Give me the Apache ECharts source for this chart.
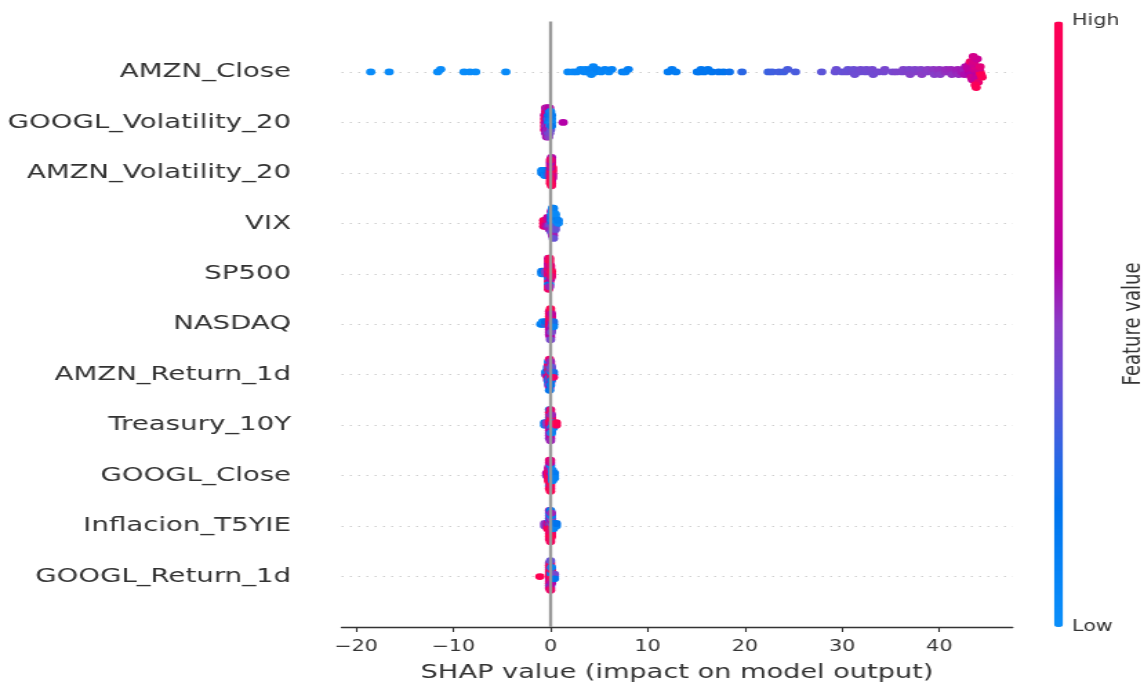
<!DOCTYPE html>
<html>
<head>
<meta charset="utf-8">
<title>SHAP summary</title>
<script src="https://cdn.jsdelivr.net/npm/echarts@6/dist/echarts.min.js"></script>
<style>
  html, body { margin: 0; padding: 0; background: #fff; overflow: hidden; }
  /* the reference picture is stretched sideways, so draw narrow and scale it */
  #chart { width: 832px; height: 685px; transform: scaleX(1.38); transform-origin: 0 0; }
</style>
</head>
<body>
<div id="chart"></div>
<script>
// features, top row first
const featureNames = ['AMZN_Close', 'GOOGL_Volatility_20', 'AMZN_Volatility_20', 'VIX', 'SP500', 'NASDAQ',
  'AMZN_Return_1d', 'Treasury_10Y', 'GOOGL_Close', 'Inflacion_T5YIE', 'GOOGL_Return_1d']

// shap values and feature values (0 = low, 10 = high)
const amznCloseShap = [-18.5, -16.6, -11.6, -11.3, -8.9, -8.3, -7.7, -4.6,
  1.8, 2.3, 2.7, 3.1, 3.5, 3.6, 3.9, 4.1, 4.2, 4.4, 4.6, 4.8, 5.2, 5.6, 6.0, 6.3, 7.4, 7.7, 8.0,
  12.1, 12.5, 12.9, 15.1, 15.3, 15.5, 15.8, 16.2, 16.6, 17.3, 17.8, 18.4, 19.7,
  22.4, 22.8, 23.5, 24.0, 24.4, 25.2, 27.9,
  29.3, 29.4, 30.0, 30.5, 30.6, 31.1, 31.2, 31.3, 31.8, 31.9, 32.4, 32.5, 33.0, 33.1, 33.2, 33.7, 34.3, 34.4,
  35.2, 35.6, 36.2, 36.3, 36.8, 36.9, 37.0, 37.4, 37.5, 38.0, 38.1, 38.2, 38.7, 38.8, 39.3, 39.4, 39.5,
  39.9, 40.0, 40.1, 40.6, 40.7, 41.1, 41.2, 41.3, 41.8, 41.9, 42.0, 42.3, 42.5, 42.6, 42.7,
  43.1, 43.0, 43.2, 42.9, 43.3, 43.1, 43.4, 43.2,
  43.8, 43.6, 43.9, 43.7, 44.0, 43.5, 43.8, 43.6, 44.0, 43.9, 43.7, 43.5, 43.8,
  44.2, 44.1, 44.3, 44.2, 44.4]
const amznCloseValue = [0.2, 0.3, 0.2, 0.3, 0.2, 0.3, 0.2, 0.4,
  0.6, 0.5, 0.7, 0.6, 0.8, 0.6, 0.7, 0.9, 0.6, 0.8, 0.7, 1.0, 0.8, 0.9, 0.7, 1.0, 1.1, 0.9, 1.2,
  1.4, 1.5, 1.4, 1.7, 1.8, 1.7, 1.9, 1.8, 2.0, 2.1, 2.0, 2.2, 2.8,
  3.1, 3.2, 3.3, 3.2, 3.4, 3.4, 3.8,
  4.0, 4.1, 4.0, 4.1, 4.0, 4.2, 4.1, 4.2, 4.2, 4.3, 4.2, 4.3, 4.3, 4.4, 4.3, 4.4, 4.4, 4.5,
  4.5, 4.6, 4.6, 4.7, 4.7, 4.6, 4.8, 4.8, 4.7, 4.9, 4.8, 5.0, 4.9, 5.0, 5.0, 5.1, 4.9,
  5.1, 5.2, 5.0, 5.2, 5.3, 5.3, 5.4, 5.2, 5.4, 5.5, 5.3, 5.6, 5.5, 5.8, 5.7,
  6.2, 6.6, 5.9, 6.4, 7.0, 6.5, 6.8, 9.0,
  6.5, 7.0, 6.3, 7.6, 6.8, 7.2, 6.6, 7.5, 8.6, 6.9, 9.5, 7.3, 9.8,
  9.6, 7.5, 10, 8.2, 9.8]

const googlVolShap = [-0.6, -0.6, -0.6, -0.6, -0.6,
  -0.5, -0.5, -0.5, -0.5, -0.5, -0.5, -0.5, -0.5,
  -0.4, -0.4, -0.4, -0.4, -0.4, -0.4, -0.4, -0.4, -0.4,
  -0.3, -0.3, -0.3, -0.3, -0.3, -0.3, -0.3, -0.3, -0.3,
  -0.2, -0.2, -0.2, -0.2, -0.2, -0.2, -0.2, -0.2, -0.2,
  -0.1, -0.1, -0.1, -0.1, -0.1, -0.1, -0.1, -0.1,
  0, 0, 0, 0, 0, 0, 0.1, 0.1, 0.1, 0.1, 1.3]
const googlVolValue = [9.5, 8.5, 9.5, 6.5, 9.0,
  6.5, 9.5, 5.5, 9.0, 6.0, 7.0, 5.5, 6.5,
  5.5, 6.5, 4.5, 7.0, 6.0, 9.5, 5.0, 6.5, 5.5,
  6.0, 2.0, 5.5, 6.5, 4.5, 8.5, 6.0, 5.0, 6.5,
  1.5, 4.5, 6.5, 2.0, 5.5, 6.0, 4.0, 7.0, 5.0,
  1.0, 1.5, 5.0, 2.0, 6.5, 1.5, 4.5, 6.0,
  1.0, 1.5, 0.5, 2.0, 4.0, 1.0, 0.5, 1.0, 2.0, 1.5, 6.0]

const amznVolShap = [0.1, 0.1, 0.1, 0.1, 0.1, 0.1, 0.1, 0.1, 0.1, 0.1, 0.1, 0.1,
  0.2, 0.2, 0.2, 0.2, 0.2,
  -0.9, -0.9, -0.8, -0.8, -0.6, -0.6, -0.6, -0.5, -0.5, -0.5, -0.3, -0.3, -0.3, -0.2, -0.2, -0.2,
  0, 0, 0, 0, 0, 0, 0, 0, 0, 0]
const amznVolValue = [9.5, 9.0, 8.5, 10, 7.5, 9.5, 6.5, 9.0, 8.0, 7.0, 9.5, 6.0,
  8.5, 9.5, 7.0, 10, 6.5,
  1.0, 0.5, 1.5, 1.0, 1.0, 0.5, 2.0, 1.5, 1.0, 0.5, 2.0, 1.0, 1.5, 2.5, 1.5, 3.0,
  10, 9.5, 8.0, 6.5, 9.0, 7.5, 9.5, 6.0, 10, 8.5]

const vixShap = [-0.7, -0.7, -0.7, -0.5, -0.5, -0.5, -0.3, -0.3, -0.3, -0.3,
  -0.1, -0.1, -0.1, -0.1, -0.1,
  0.1, 0.1, 0.1, 0.1, 0.1, 0.1, 0.1, 0.1,
  0.2, 0.2, 0.2, 0.2, 0.2, 0.2, 0.2, 0.2, 0.2, 0.2,
  0.3, 0.3, 0.3, 0.3, 0.3, 0.3, 0.3, 0.3, 0.3, 0.3, 0.3,
  0.5, 0.5, 0.5, 0.5, 0.5, 0.5, 0.8, 0.8]
const vixValue = [10, 9.5, 9.0, 8.5, 9.5, 7.5, 6.5, 8.0, 5.5, 7.0,
  5.0, 6.5, 4.5, 6.0, 5.5,
  3.0, 1.5, 4.5, 2.0, 5.5, 1.0, 4.0, 6.0,
  2.0, 1.0, 4.5, 1.5, 5.0, 0.5, 4.0, 1.0, 5.5, 1.5,
  1.5, 0.5, 4.0, 1.0, 5.0, 1.5, 4.5, 0.5, 5.5, 1.0, 4.0,
  1.0, 0.5, 3.5, 1.5, 4.0, 0.5, 0.5, 1.0]

const sp500Shap = [-0.9, -0.9, -0.7, -0.7, -0.5, -0.5,
  -0.2, -0.2, -0.2, -0.2, -0.2, -0.2, -0.2, -0.2, -0.2, -0.2, -0.2, -0.2, -0.2,
  -0.1, -0.1, -0.1, -0.1, -0.1, -0.1, -0.1, -0.1, -0.1, -0.1, -0.1, -0.1,
  0, 0, 0, 0, 0, 0, 0.1, 0.1, 0.1]
const sp500Value = [1.0, 1.5, 0.5, 2.0, 3.5, 4.5,
  9.5, 6.5, 9.0, 10, 2.0, 7.0, 9.5, 6.0, 1.5, 8.5, 10, 6.5, 9.0,
  8.0, 10, 6.5, 9.5, 1.0, 6.0, 9.0, 7.5, 2.0, 10, 5.5, 9.5,
  6.5, 5.5, 9.0, 7.0, 6.0, 8.5, 9.5, 10, 8.5]

const nasdaqShap = [-1.0, -0.8, -0.8, -0.5, -0.5,
  -0.1, -0.1, -0.1, -0.1, -0.1, -0.1, -0.1, -0.1, -0.1, -0.1,
  0, 0, 0, 0, 0, 0, 0, 0, 0, 0, 0, 0, 0,
  0.1, 0.1, 0.1, 0.1, 0.1, 0.1, 0.1, 0.1, 0.3, 0.3, 0.3]
const nasdaqValue = [1.0, 1.5, 0.5, 3.0, 2.0,
  9.5, 10, 8.5, 9.0, 6.5, 10, 5.5, 9.5, 6.0, 8.0,
  10, 9.0, 9.5, 8.5, 6.5, 10, 7.0, 9.5, 5.5, 9.0, 6.0, 10, 4.5,
  8.5, 7.0, 5.5, 9.5, 6.0, 8.0, 4.5, 6.5, 1.5, 2.5, 1.0]

const amznRetShap = [-0.5, -0.5, -0.3, -0.3, -0.3, -0.3, -0.3, -0.3,
  -0.2, -0.2, -0.2, -0.2, -0.2, -0.2, -0.2, -0.2, -0.2, -0.2,
  -0.1, -0.1, -0.1, -0.1, -0.1, -0.1, -0.1, -0.1, -0.1, -0.1, -0.1, -0.1, -0.1,
  0, 0, 0, 0, 0, 0, 0, 0, 0, 0,
  0.1, 0.1, 0.1, 0.1, 0.1, 0.1, 0.3, 0.3, 0.3]
const amznRetValue = [4.5, 1.5, 6.5, 1.0, 9.5, 2.0, 5.0, 1.5,
  9.0, 1.5, 6.0, 9.5, 2.0, 5.0, 1.0, 8.5, 4.5, 1.0,
  6.5, 9.5, 1.5, 2.0, 5.5, 10, 1.0, 9.0, 4.5, 1.5, 6.0, 8.5, 2.0,
  9.5, 5.0, 1.5, 10, 4.5, 1.0, 6.0, 9.0, 2.0, 5.5,
  8.0, 1.5, 9.5, 5.0, 2.0, 4.0, 1.0, 2.5, 9.0]

const treasuryShap = [-0.6, -0.6, -0.4, -0.4,
  -0.1, -0.1, -0.1, -0.1, -0.1, -0.1, -0.1, -0.1, -0.1, -0.1, -0.1, -0.1,
  0, 0, 0, 0, 0, 0, 0, 0, 0, 0, 0, 0, 0,
  0.1, 0.1, 0.1, 0.1, 0.1, 0.1, 0.1, 0.1, 0.3, 0.3, 0.3, 0.6, 0.6]
const treasuryValue = [1.0, 2.0, 4.0, 5.0,
  9.0, 10, 6.5, 9.5, 8.0, 1.5, 5.5, 10, 6.0, 9.0, 4.5, 2.0,
  6.5, 9.5, 5.5, 10, 6.0, 9.0, 4.5, 1.0, 5.0, 9.5, 6.5, 8.5, 5.5,
  9.5, 8.0, 1.5, 10, 6.0, 9.0, 1.0, 5.5, 1.0, 1.5, 0.5, 9.5, 10]

const googlCloseShap = [-0.4, -0.4, -0.2, -0.2, -0.2, -0.2, -0.2, -0.2,
  -0.1, -0.1, -0.1, -0.1, -0.1, -0.1, -0.1, -0.1, -0.1, -0.1, -0.1, -0.1,
  0, 0, 0, 0, 0, 0, 0, 0, 0, 0, 0, 0, 0,
  0.2, 0.2, 0.2, 0.2, 0.2, 0.4, 0.4, 0.4]
const googlCloseValue = [5.0, 6.0, 9.5, 10, 8.5, 9.0, 10, 6.5,
  10, 9.0, 9.5, 8.0, 10, 6.5, 9.5, 7.0, 1.5, 9.0, 10, 8.5,
  9.5, 6.0, 10, 8.5, 9.0, 5.5, 9.5, 1.0, 10, 6.5, 9.0, 8.0, 10,
  1.0, 0.5, 1.5, 0.5, 1.0, 0.5, 1.5, 1.0]

const inflacionShap = [-0.6, -0.6, -0.3, -0.3, -0.3,
  -0.1, -0.1, -0.1, -0.1, -0.1, -0.1, -0.1, -0.1, -0.1, -0.1, -0.1, -0.1,
  0, 0, 0, 0, 0, 0, 0, 0, 0, 0, 0, 0, 0,
  0.1, 0.1, 0.1, 0.1, 0.1, 0.1, 0.1, 0.1, 0.1, 0.1,
  0.3, 0.3, 0.3, 0.6, 0.6]
const inflacionValue = [4.5, 5.0, 6.5, 7.0, 9.5,
  9.0, 1.5, 10, 6.5, 9.5, 2.0, 9.0, 5.5, 10, 1.0, 9.5, 6.0,
  6.5, 9.5, 10, 1.5, 9.0, 6.0, 9.5, 1.0, 10, 5.5, 8.5, 2.0, 9.5,
  9.5, 5.0, 10, 6.5, 9.0, 4.5, 8.5, 1.5, 10, 5.5,
  1.5, 2.0, 1.0, 1.0, 2.0]

const googlRetShap = [-1.1,
  -0.1, -0.1, -0.1, -0.1, -0.1, -0.1, -0.1, -0.1, -0.1, -0.1, -0.1, -0.1,
  0, 0, 0, 0, 0, 0, 0, 0, 0, 0, 0, 0, 0, 0,
  0.1, 0.1, 0.1, 0.1, 0.1, 0.1, 0.1, 0.1, 0.4, 0.4, 0.4]
const googlRetValue = [10,
  9.5, 10, 8.5, 9.0, 6.5, 10, 9.5, 5.5, 9.0, 10, 8.0, 4.5,
  10, 9.0, 6.0, 9.5, 8.5, 10, 5.5, 9.0, 1.5, 10, 7.0, 9.5, 9.0, 4.0,
  9.0, 1.5, 10, 2.0, 8.5, 9.5, 6.0, 1.0, 1.5, 4.5, 2.0]

const shapRows = [amznCloseShap, googlVolShap, amznVolShap, vixShap, sp500Shap, nasdaqShap,
  amznRetShap, treasuryShap, googlCloseShap, inflacionShap, googlRetShap]
const valueRows = [amznCloseValue, googlVolValue, amznVolValue, vixValue, sp500Value, nasdaqValue,
  amznRetValue, treasuryValue, googlCloseValue, inflacionValue, googlRetValue]

const xTicks = [-20, -10, 0, 10, 20, 30, 40]
const barColors = ['#0a8ffa', '#0582f5', '#0074ee', '#3563e2', '#6650d6', '#8a3cc6',
  '#b400a8', '#cc0092', '#e0007c', '#f00066', '#ff0052']

// same stacking as the shap beeswarm: bin the values, pile points up and down inside a bin
function swarm(shaps) {
  const lo = Math.min(...shaps)
  const hi = Math.max(...shaps)
  const quant = shaps.map(v => Math.round(100 * (v - lo) / (hi - lo + 1e-8)))
  const inds = shaps.map((v, i) => i).sort((a, b) => quant[a] - quant[b] || a - b)
  const ys = new Array(shaps.length).fill(0)
  let layer = 0
  let lastBin = -1
  for (const i of inds) {
    if (quant[i] !== lastBin) layer = 0
    ys[i] = Math.ceil(layer / 2) * ((layer % 2) * 2 - 1)
    layer += 1
    lastBin = quant[i]
  }
  const top = Math.max(...ys.map(y => y + 1))
  return ys.map(y => y * 0.9 * (0.4 / top))
}

const n = featureNames.length
const points = []
shapRows.forEach((shaps, i) => {
  const pos = n - 1 - i
  const offs = swarm(shaps)
  shaps.forEach((v, j) => points.push([v, pos + offs[j], valueRows[i][j]]))
})

const fmtMinus = v => (v < 0 ? '\u2212' + (-v) : String(v))

const chart = echarts.init(document.getElementById('chart'))
chart.setOption({
  animation: false,
  backgroundColor: '#fff',
  textStyle: { fontFamily: 'DejaVu Sans' },
  grid: { left: 247.5, right: 98.2, top: 21.5, bottom: 58, containLabel: false, outerBoundsMode: 'none' },
  xAxis: {
    type: 'value',
    min: -21.5,
    max: 47.55,
    axisLine: { show: true, onZero: false, lineStyle: { color: '#333', width: 1.3 } },
    axisTick: { show: true, length: 5, customValues: xTicks, lineStyle: { color: '#333', width: 1.1 } },
    axisLabel: { customValues: xTicks, formatter: fmtMinus, color: '#333', fontSize: 15, margin: 13 },
    splitLine: { show: false },
    name: 'SHAP value (impact on model output)',
    nameLocation: 'middle',
    nameGap: 36,
    nameTextStyle: { color: '#333', fontSize: 19.7 }
  },
  yAxis: {
    type: 'value',
    min: -1,
    max: 11,
    interval: 1,
    axisLine: { show: false },
    axisTick: { show: false },
    axisLabel: {
      margin: 36.6,
      color: '#333',
      fontSize: 20,
      padding: [4, 0, 0, 0],
      formatter: v => (v >= 0 && v < n ? featureNames[n - 1 - v] : '')
    },
    splitLine: {
      show: true,
      showMinLine: false,
      showMaxLine: false,
      lineStyle: { color: '#cfcfcf', width: 1, type: [1.5, 4.5] }
    }
  },
  visualMap: {
    type: 'continuous',
    seriesIndex: 0,
    dimension: 2,
    min: 0,
    max: 10,
    orient: 'vertical',
    left: 763.8,
    top: 21.5,
    itemWidth: 6.5,
    itemHeight: 605.5,
    padding: 0,
    text: null,
    calculable: false,
    hoverLink: false,
    inRange: { color: barColors }
  },
  graphic: [
    { type: 'text', x: 776.8, y: 21.5, silent: true,
      style: { text: 'High', fill: '#333', font: '15px "DejaVu Sans"', verticalAlign: 'middle' } },
    { type: 'text', x: 776.8, y: 627, silent: true,
      style: { text: 'Low', fill: '#333', font: '15px "DejaVu Sans"', verticalAlign: 'middle' } },
    { type: 'text', x: 821, y: 324, rotation: Math.PI / 2, silent: true,
      style: { text: 'Feature value', fill: '#333', font: '18px "DejaVu Sans"', align: 'center', verticalAlign: 'middle' } }
  ],
  series: [
    {
      type: 'scatter',
      z: 3,
      silent: true,
      symbolSize: 6.8,
      itemStyle: { opacity: 1, borderWidth: 0 },
      emphasis: { disabled: true },
      data: points
    },
    {
      // vertical line at zero, behind the dots
      type: 'line',
      z: 1,
      silent: true,
      data: [],
      markLine: {
        silent: true,
        symbol: 'none',
        label: { show: false },
        lineStyle: { color: '#999', width: 2.3, type: 'solid' },
        data: [{ xAxis: 0 }]
      }
    }
  ]
})
</script>
</body>
</html>
